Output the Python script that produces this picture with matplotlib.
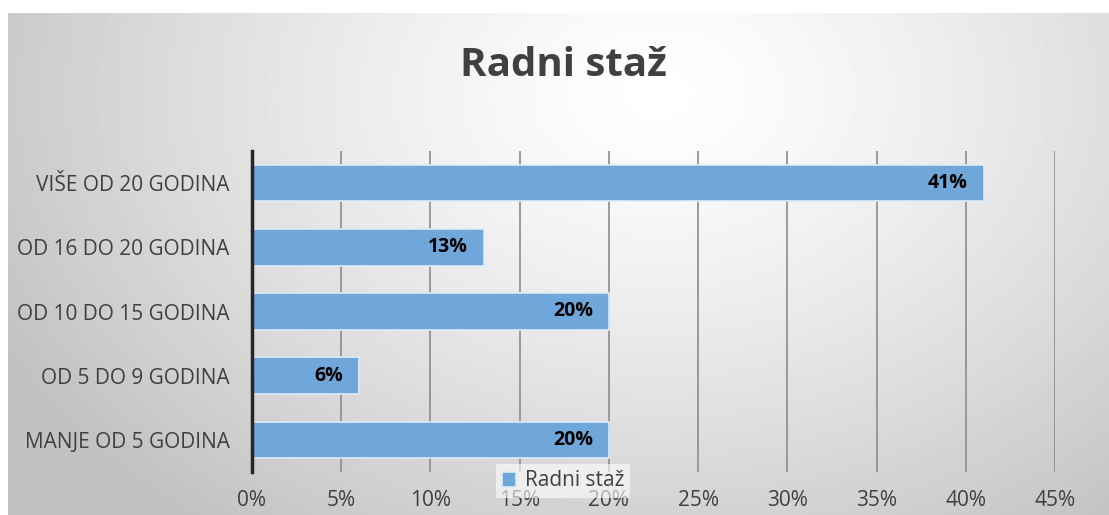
import numpy as np
import matplotlib
matplotlib.use("Agg")
import matplotlib.pyplot as plt
from matplotlib.ticker import PercentFormatter

categories = [
    "MANJE OD 5 GODINA",
    "OD 5 DO 9 GODINA",
    "OD 10 DO 15 GODINA",
    "OD 16 DO 20 GODINA",
    "VIŠE OD 20 GODINA",
]
values = [20, 6, 20, 13, 41]
series_name = "Radni staž"
title = "Radni staž"

plt.rcParams["font.family"] = ["Open Sans", "DejaVu Sans"]

W, H = 1109, 515
fig = plt.figure(figsize=(W / 100, H / 100), dpi=100)
fig.patch.set_facecolor("white")

# radial gradient background of the chart area
bg = fig.add_axes([8 / W, 0, 1 - 8 / W, 1 - 13 / H], zorder=0)
yy, xx = np.mgrid[0:502, 0:1101]
d = np.sqrt(((xx - 650) / 760) ** 2 + ((yy - 80) / 560) ** 2)
shade = np.clip(1.0 - 0.25 * d ** 1.3, 0.76, 1.0)
bg.imshow(shade, cmap="gray", vmin=0, vmax=1, aspect="auto",
          interpolation="bilinear")
bg.axis("off")

ax = fig.add_axes([252 / W, 1 - 472 / H, (1055 - 252) / W, (472 - 151) / H],
                  zorder=1)
ax.patch.set_alpha(0)

y = np.arange(len(categories))
bars = ax.barh(y, values, height=0.57, color="#70A7DB", edgecolor="#DDEBF7",
               linewidth=1.2, label=series_name, zorder=3)

for b, v in zip(bars, values):
    ax.text(b.get_width() - 0.9, b.get_y() + b.get_height() / 2, f"{v}%",
            ha="right", va="center", fontsize=14, fontweight="bold",
            color="black", zorder=4)

ax.set_xlim(0, 45)
ax.set_ylim(-0.5, len(categories) - 0.5)
ax.set_xticks(np.arange(0, 46, 5))
ax.xaxis.set_major_formatter(PercentFormatter(decimals=0))
ax.set_yticks(y)
ax.set_yticklabels(categories)
ax.grid(axis="x", color="#8c8c8c", linewidth=1.2, zorder=1)
ax.tick_params(axis="both", length=0, labelsize=15, colors="#404040")
ax.tick_params(axis="x", pad=13)
ax.tick_params(axis="y", pad=16)
for s in ["top", "right", "bottom"]:
    ax.spines[s].set_visible(False)
ax.spines["left"].set_color("#262626")
ax.spines["left"].set_linewidth(2.5)
ax.spines["left"].set_zorder(5)

fig.text(563 / W, 1 - 66 / H, title, ha="center", va="center",
         fontsize=29, fontweight="bold", color="#404040")

leg = ax.legend(loc="center", bbox_to_anchor=(563 / W, 1 - 481 / H),
                bbox_transform=fig.transFigure, frameon=True, fancybox=False,
                fontsize=15, handlelength=0.7, handleheight=0.7,
                handletextpad=0.4, borderpad=0.3)
leg.get_frame().set_facecolor("white")
leg.get_frame().set_alpha(0.6)
leg.get_frame().set_linewidth(0)
for t in leg.get_texts():
    t.set_color("#404040")

fig.savefig("out.png", dpi=100)
